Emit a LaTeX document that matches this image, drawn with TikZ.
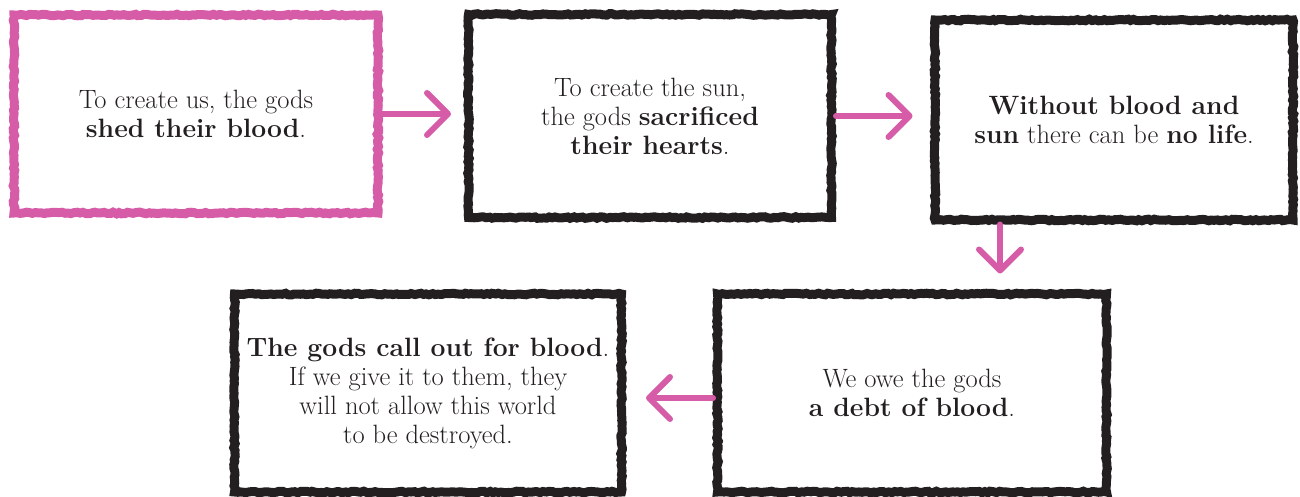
\documentclass[tikz,border=0pt]{standalone}
\usetikzlibrary{arrows.meta,decorations.pathmorphing}
\definecolor{inkblack}{RGB}{35,31,32}
\definecolor{aztecpink}{RGB}{214,92,168}
\tikzset{
  x=1pt, y=-1pt,
  box/.style={rectangle, draw=inkblack, line width=9pt, fill=white,
    text=inkblack, align=center,
    font=\fontsize{26.5}{29}\selectfont,
    decorate, decoration={random steps, segment length=3pt, amplitude=0.8pt}},
  pinkbox/.style={box, draw=aztecpink},
  arr/.style={draw=aztecpink, line width=6pt, line cap=round,
    -{Straight Barb[length=21pt, width=42pt, round]}}
}
\pgfmathsetseed{7}
\begin{document}
\begin{tikzpicture}
\useasboundingbox (0,0) rectangle (1300,497);
\node[pinkbox, minimum width=364pt, minimum height=198pt] (b1) at (196,114)
  {To create us, the gods\\\textbf{shed their blood}.};
\node[box, minimum width=363pt, minimum height=203pt] (b2) at (650,116)
  {To create the sun,\\the gods \textbf{sacrificed}\\\textbf{their hearts}.};
\node[box, minimum width=358pt, minimum height=200pt] (b3) at (1114,120)
  {\textbf{Without blood and}\\\textbf{sun} there can be \textbf{no life}.};
\node[box, minimum width=389pt, minimum height=198pt] (b4) at (912,393)
  {We owe the gods\\\textbf{a debt of blood}.};
\node[box, minimum width=387pt, minimum height=198pt] (b5) at (428,393)
  {\textbf{The gods call out for blood}.\\If we give it to them, they\\will not allow this world\\to be destroyed.};
\coordinate (a3x) at (1000,0);
\coordinate (a4y) at (0,398);
\draw[arr] (b1.east) -- ([xshift=-13pt]b1.east -| b2.west);
\draw[arr] (b2.east) -- ([xshift=-18pt]b2.east -| b3.west);
\draw[arr] (b3.south -| a3x) -- ([yshift=16pt]b4.north -| a3x);
\draw[arr] (b4.west |- a4y) -- ([xshift=20pt]b5.east |- a4y);
\end{tikzpicture}
\end{document}
